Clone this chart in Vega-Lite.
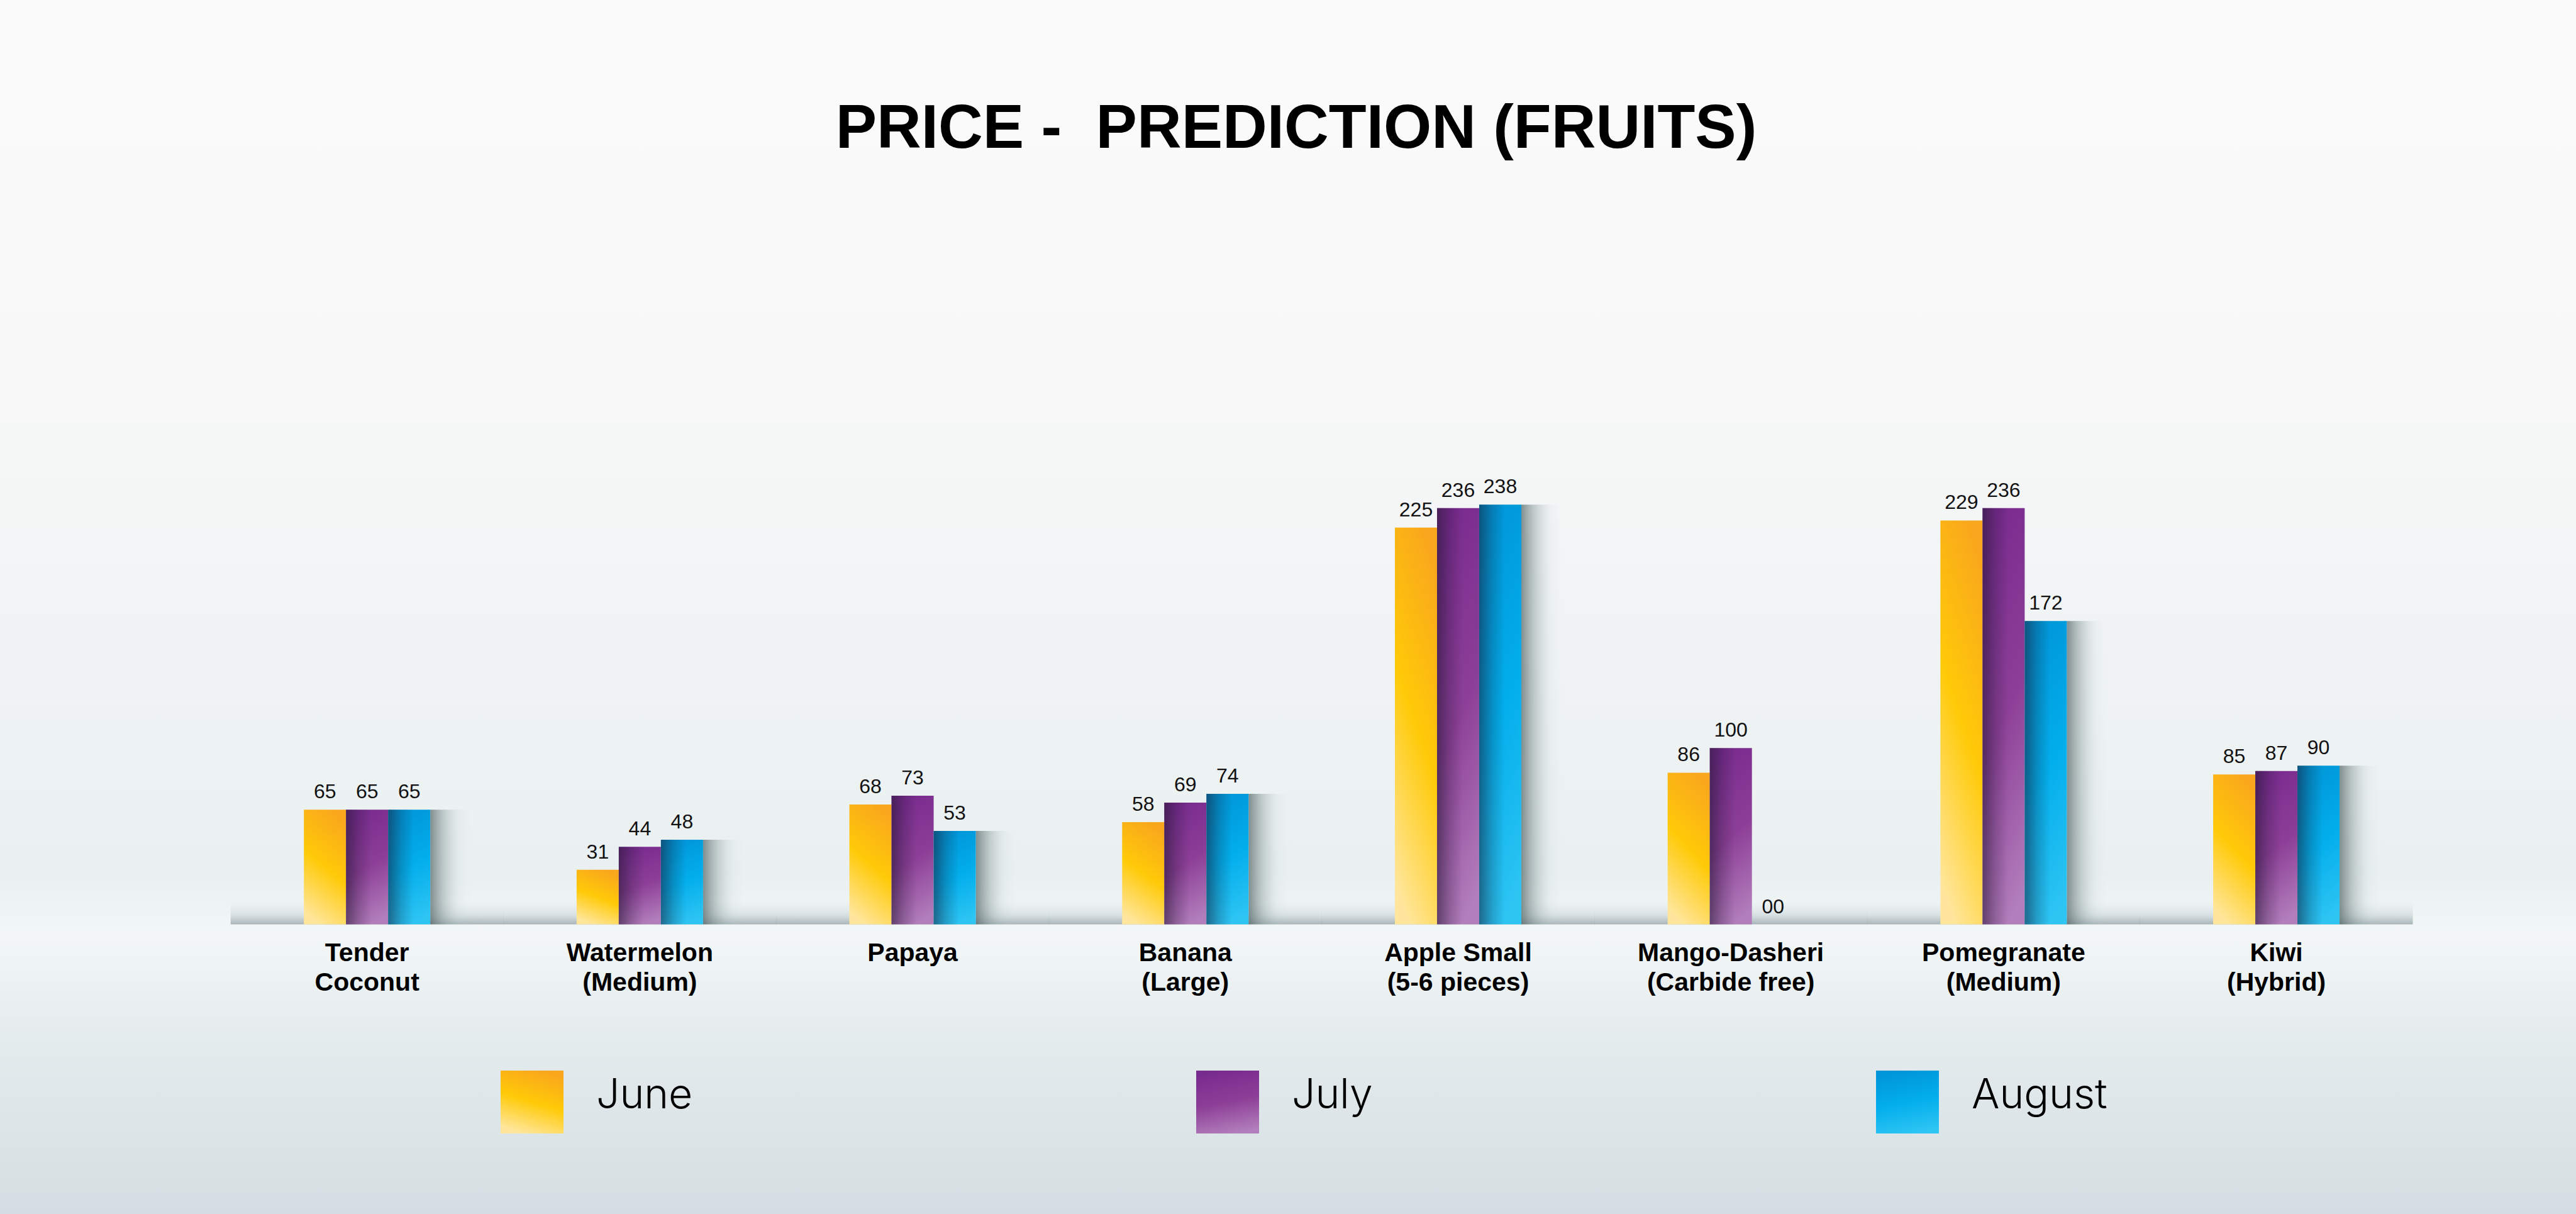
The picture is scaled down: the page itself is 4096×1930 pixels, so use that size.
{
  "$schema": "https://vega.github.io/schema/vega-lite/v6.json",
  "width": 4096,
  "height": 1930,
  "autosize": {"type": "none"},
  "padding": 0,
  "background": "#f3f6f7",
  "view": {
    "stroke": null,
    "fill": {"gradient": "linear", "x1": 0, "y1": 0, "x2": 0, "y2": 1,
      "stops": [
        {"offset": 0, "color": "#fbfbfb"},
        {"offset": 0.3, "color": "#f8f8f8"},
        {"offset": 0.5, "color": "#f1f4f5"},
        {"offset": 0.72, "color": "#eaf0f1"},
        {"offset": 0.77, "color": "#f2f6f7"},
        {"offset": 0.86, "color": "#e4ebed"},
        {"offset": 1, "color": "#d4dee2"}
      ]}
  },
  "title": {
    "text": "PRICE - \u00a0PREDICTION (FRUITS)",
    "font": "Liberation Sans",
    "fontWeight": "bold",
    "fontSize": 98,
    "color": "#000000",
    "anchor": "middle",
    "frame": "group",
    "offset": 0,
    "baseline": "alphabetic",
    "dy": 333,
    "dx": 13
  },
  "data": {
    "values": [
      {"fruit": "Tender|Coconut", "month": "June", "price": 65, "label": "65"},
      {"fruit": "Tender|Coconut", "month": "July", "price": 65, "label": "65"},
      {"fruit": "Tender|Coconut", "month": "August", "price": 65, "label": "65"},
      {"fruit": "Watermelon|(Medium)", "month": "June", "price": 31, "label": "31"},
      {"fruit": "Watermelon|(Medium)", "month": "July", "price": 44, "label": "44"},
      {"fruit": "Watermelon|(Medium)", "month": "August", "price": 48, "label": "48"},
      {"fruit": "Papaya", "month": "June", "price": 68, "label": "68"},
      {"fruit": "Papaya", "month": "July", "price": 73, "label": "73"},
      {"fruit": "Papaya", "month": "August", "price": 53, "label": "53"},
      {"fruit": "Banana|(Large)", "month": "June", "price": 58, "label": "58"},
      {"fruit": "Banana|(Large)", "month": "July", "price": 69, "label": "69"},
      {"fruit": "Banana|(Large)", "month": "August", "price": 74, "label": "74"},
      {"fruit": "Apple Small|(5-6 pieces)", "month": "June", "price": 225, "label": "225"},
      {"fruit": "Apple Small|(5-6 pieces)", "month": "July", "price": 236, "label": "236"},
      {"fruit": "Apple Small|(5-6 pieces)", "month": "August", "price": 238, "label": "238"},
      {"fruit": "Mango-Dasheri|(Carbide free)", "month": "June", "price": 86, "label": "86"},
      {"fruit": "Mango-Dasheri|(Carbide free)", "month": "July", "price": 100, "label": "100"},
      {"fruit": "Mango-Dasheri|(Carbide free)", "month": "August", "price": 0, "label": "00"},
      {"fruit": "Pomegranate|(Medium)", "month": "June", "price": 229, "label": "229"},
      {"fruit": "Pomegranate|(Medium)", "month": "July", "price": 236, "label": "236"},
      {"fruit": "Pomegranate|(Medium)", "month": "August", "price": 172, "label": "172"},
      {"fruit": "Kiwi|(Hybrid)", "month": "June", "price": 85, "label": "85"},
      {"fruit": "Kiwi|(Hybrid)", "month": "July", "price": 87, "label": "87"},
      {"fruit": "Kiwi|(Hybrid)", "month": "August", "price": 90, "label": "90"}
    ]
  },
  "encoding": {
    "x": {
      "field": "fruit",
      "type": "nominal",
      "sort": null,
      "scale": {"paddingInner": 0.382, "paddingOuter": 0.9132, "align": 0.61},
      "axis": {
        "title": null,
        "orient": "bottom",
        "offset": -460.4,
        "domain": false,
        "ticks": false,
        "tickSize": 0,
        "grid": false,
        "labelAngle": 0,
        "labelExpr": "split(datum.label, '|')",
        "labelFont": "Liberation Sans",
        "labelFontWeight": "bold",
        "labelFontSize": 41,
        "labelLineHeight": 47,
        "labelColor": "#000000",
        "labelBaseline": "top",
        "labelPadding": 26,
        "labelLimit": 0,
        "labelOffset": -33.5
      }
    },
    "xOffset": {
      "field": "month",
      "type": "nominal",
      "scale": {"domain": ["June", "July", "August", "Shadow"], "paddingInner": 0, "paddingOuter": 0}
    },
    "y": {
      "field": "price",
      "type": "quantitative",
      "scale": {"domain": [-164.2, 524.1], "nice": false, "zero": false},
      "axis": null
    }
  },
  "layer": [
    {
      "transform": [{"filter": "datum.month == 'July'"}],
      "mark": {
        "type": "bar",
        "width": 434,
        "fill": {"gradient": "linear", "x1": 0, "y1": 1, "x2": 0, "y2": 0,
          "stops": [
            {"offset": 0, "color": "rgba(95,115,120,0.5)"},
            {"offset": 0.4, "color": "rgba(150,170,175,0.25)"},
            {"offset": 1, "color": "rgba(220,230,232,0)"}
          ]}
      },
      "encoding": {"y": {"datum": 14}, "y2": {"datum": 0}}
    },
    {
      "transform": [{"filter": "datum.month == 'August'"}],
      "mark": {
        "type": "bar",
        "fill": {"gradient": "linear", "x1": 0, "y1": 0, "x2": 1, "y2": 0,
          "stops": [
            {"offset": 0, "color": "rgba(70,88,88,0.65)"},
            {"offset": 0.35, "color": "rgba(120,140,140,0.35)"},
            {"offset": 0.7, "color": "rgba(180,198,198,0.1)"},
            {"offset": 1, "color": "rgba(210,222,222,0)"}
          ]}
      },
      "encoding": {"xOffset": {"datum": "Shadow"}, "y2": {"datum": 0}}
    },
    {
      "mark": {"type": "bar"},
      "encoding": {
        "y2": {"datum": 0},
        "color": {
          "field": "month",
          "type": "nominal",
          "scale": {
            "domain": ["June", "July", "August"],
            "range": [
              {"expr": "{gradient: 'linear', x1: 0.35, y1: 1, x2: 0.65, y2: 0, stops: [{offset: 0, color: '#ffe69c'}, {offset: 0.5, color: '#ffca08'}, {offset: 1, color: '#f9a71c'}]}"},
              {"expr": "{gradient: 'linear', x1: 0.6, y1: 1, x2: 0.4, y2: 0, stops: [{offset: 0, color: '#b27ebb'}, {offset: 0.5, color: '#8c3f97'}, {offset: 1, color: '#782b8e'}]}"},
              {"expr": "{gradient: 'linear', x1: 0.6, y1: 1, x2: 0.4, y2: 0, stops: [{offset: 0, color: '#2ec5f3'}, {offset: 0.5, color: '#02aeec'}, {offset: 1, color: '#0096d8'}]}"}
            ]
          },
          "legend": {
            "title": null,
            "orient": "none",
            "legendX": 796,
            "legendY": 1702,
            "direction": "horizontal",
            "padding": 0,
            "offset": 0,
            "columnPadding": 800,
            "symbolType": "square",
            "symbolSize": 10000,
            "symbolStrokeWidth": 0,
            "symbolOpacity": 1,
            "labelFont": "Inter",
            "labelFontWeight": 300,
            "labelFontSize": 66,
            "labelColor": "#000000",
            "labelOffset": 52,
            "labelLimit": 0,
            "encode": {
              "labels": {
                "update": {"dy": {"value": -10}}
              },
              "symbols": {
                "enter": {
                  "fill": {"signal": "datum.value == 'June' ? {gradient: 'linear', x1: 0, y1: 0, x2: 1, y2: 0, stops: [{offset: 0, color: '#fee6a0'}, {offset: 0.5, color: '#ffcb05'}, {offset: 1, color: '#f9aa1d'}]} : datum.value == 'July' ? {gradient: 'linear', x1: 0, y1: 0, x2: 1, y2: 0, stops: [{offset: 0, color: '#b07cb8'}, {offset: 0.4, color: '#924b9c'}, {offset: 1, color: '#762b8e'}]} : {gradient: 'linear', x1: 0, y1: 0, x2: 1, y2: 0, stops: [{offset: 0, color: '#2ec6f3'}, {offset: 0.45, color: '#00aeef'}, {offset: 1, color: '#0096d8'}]}"}
                },
                "update": {
                  "fill": {"signal": "datum.value == 'June' ? {gradient: 'linear', x1: 0, y1: 0, x2: 1, y2: 0, stops: [{offset: 0, color: '#fee6a0'}, {offset: 0.5, color: '#ffcb05'}, {offset: 1, color: '#f9aa1d'}]} : datum.value == 'July' ? {gradient: 'linear', x1: 0, y1: 0, x2: 1, y2: 0, stops: [{offset: 0, color: '#b07cb8'}, {offset: 0.4, color: '#924b9c'}, {offset: 1, color: '#762b8e'}]} : {gradient: 'linear', x1: 0, y1: 0, x2: 1, y2: 0, stops: [{offset: 0, color: '#2ec6f3'}, {offset: 0.45, color: '#00aeef'}, {offset: 1, color: '#0096d8'}]}"}
                }
              }
            }
          }
        }
      }
    },
    {
      "transform": [{"filter": "datum.month != 'June'"}],
      "mark": {
        "type": "bar",
        "fill": {"gradient": "linear", "x1": 0, "y1": 0, "x2": 1, "y2": 0,
          "stops": [
            {"offset": 0, "color": "rgba(25,20,40,0.5)"},
            {"offset": 0.3, "color": "rgba(25,20,40,0.2)"},
            {"offset": 0.6, "color": "rgba(25,20,40,0)"},
            {"offset": 1, "color": "rgba(25,20,40,0)"}
          ]}
      },
      "encoding": {"y2": {"datum": 0}}
    },
    {
      "mark": {
        "type": "text",
        "baseline": "alphabetic",
        "dy": -18,
        "font": "Liberation Sans",
        "fontSize": 32,
        "color": "#111111"
      },
      "encoding": {"text": {"field": "label", "type": "nominal"}}
    }
  ]
}
